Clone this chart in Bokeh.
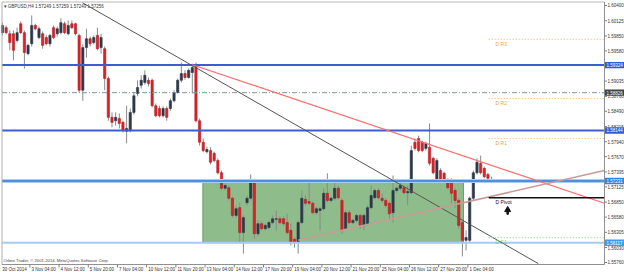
from bokeh.plotting import figure
from bokeh.models import Range1d
from bokeh.embed import file_html
from bokeh.resources import INLINE
from bokeh.core.properties import value

# ---------------- data (GBPUSD, H4) ----------------
symbol = "GBPUSD,H4"
quote = "1.57249 1.57259 1.57249 1.57256"
copyright_text = "Orbex Trader, \u00a9 2001-2014, MetaQuotes Software Corp."

opens = [1.5991,1.6000,1.5989,1.5989,1.5977,1.6007,1.5991,1.5953,1.5971,1.6004,
         1.5982,1.5989,1.5982,1.5971,1.6000,1.5989,1.5991,1.6007,1.5989,1.6007,
         1.6007,1.5986,1.5887,1.5964,1.5980,1.5973,1.5986,1.5964,1.5962,1.5908,
         1.5838,1.5832,1.5836,1.5829,1.5813,1.5814,1.5847,1.5881,1.5896,1.5901,
         1.5905,1.5905,1.5859,1.5854,1.5841,1.5854,1.5854,1.5868,1.5883,1.5905,
         1.5917,1.5910,1.5919,1.5932,1.5832,1.5793,1.5776,1.5778,1.5773,1.5760,
         1.5738,1.5710,1.5711,1.5692,1.5661,1.5675,1.5630,1.5684,1.5692,1.5720,
         1.5628,1.5646,1.5637,1.5639,1.5648,1.5654,1.5655,1.5655,1.5648,1.5634,
         1.5618,1.5612,1.5648,1.5690,1.5686,1.5683,1.5666,1.5670,1.5673,1.5701,
         1.5688,1.5692,1.5710,1.5688,1.5637,1.5666,1.5648,1.5652,1.5661,1.5643,
         1.5646,1.5675,1.5693,1.5706,1.5692,1.5688,1.5683,1.5666,1.5706,1.5710,
         1.5711,1.5702,1.5702,1.5793,1.5800,1.5793,1.5782,1.5784,1.5764,1.5724,
         1.5742,1.5737,1.5724,1.5724,1.5706,1.5688,1.5648,1.5616,1.5616,1.5692,
         1.5738,1.5755,1.5746,1.5735,1.5725]
highs = [1.6009,1.6004,1.5995,1.5995,1.6000,1.6011,1.5995,1.5971,1.6022,1.6007,
         1.6002,1.5993,1.5986,1.5989,1.6004,1.6002,1.6017,1.6011,1.6013,1.6013,
         1.6009,1.5989,1.5970,1.5998,1.5984,1.5986,1.6000,1.5989,1.5966,1.5912,
         1.5847,1.5847,1.5845,1.5832,1.5859,1.5854,1.5883,1.5905,1.5914,1.5923,
         1.5910,1.5908,1.5863,1.5859,1.5858,1.5858,1.5872,1.5887,1.5908,1.5937,
         1.5923,1.5926,1.5935,1.5937,1.5836,1.5800,1.5785,1.5784,1.5776,1.5764,
         1.5742,1.5719,1.5715,1.5695,1.5679,1.5684,1.5661,1.5697,1.5735,1.5724,
         1.5652,1.5650,1.5646,1.5652,1.5661,1.5670,1.5659,1.5659,1.5664,1.5646,
         1.5621,1.5652,1.5706,1.5697,1.5720,1.5686,1.5677,1.5677,1.5710,1.5737,
         1.5695,1.5724,1.5715,1.5692,1.5670,1.5670,1.5655,1.5664,1.5664,1.5664,
         1.5679,1.5715,1.5710,1.5710,1.5701,1.5692,1.5686,1.5733,1.5713,1.5724,
         1.5715,1.5715,1.5787,1.5800,1.5805,1.5796,1.5794,1.5827,1.5767,1.5764,
         1.5746,1.5740,1.5728,1.5728,1.5710,1.5692,1.5652,1.5634,1.5695,1.5742,
         1.5764,1.5769,1.5749,1.5738,1.5731]
lows = [1.5986,1.5988,1.5959,1.5941,1.5973,1.5988,1.5926,1.5950,1.5966,1.5995,
        1.5979,1.5962,1.5968,1.5966,1.5979,1.5984,1.5988,1.5988,1.5986,1.5997,
        1.5986,1.5883,1.5868,1.5946,1.5966,1.5970,1.5959,1.5953,1.5887,1.5832,
        1.5820,1.5823,1.5818,1.5811,1.5791,1.5811,1.5843,1.5876,1.5890,1.5897,
        1.5894,1.5856,1.5838,1.5838,1.5838,1.5832,1.5850,1.5865,1.5881,1.5901,
        1.5906,1.5908,1.5881,1.5829,1.5787,1.5775,1.5773,1.5753,1.5757,1.5735,
        1.5706,1.5706,1.5688,1.5657,1.5657,1.5612,1.5592,1.5679,1.5688,1.5619,
        1.5623,1.5634,1.5634,1.5636,1.5645,1.5634,1.5645,1.5643,1.5627,1.5607,
        1.5603,1.5592,1.5645,1.5679,1.5679,1.5663,1.5663,1.5634,1.5670,1.5684,
        1.5684,1.5688,1.5690,1.5628,1.5634,1.5645,1.5645,1.5648,1.5637,1.5634,
        1.5643,1.5672,1.5690,1.5690,1.5684,1.5675,1.5655,1.5648,1.5702,1.5706,
        1.5699,1.5679,1.5699,1.5778,1.5775,1.5775,1.5778,1.5751,1.5735,1.5720,
        1.5720,1.5720,1.5708,1.5683,1.5675,1.5637,1.5587,1.5598,1.5612,1.5688,
        1.5735,1.5735,1.5728,1.5724,1.5722]
closes = [1.6004,1.5991,1.5973,1.5959,1.5991,1.5991,1.5955,1.5968,1.6004,1.5998,
          1.5998,1.5968,1.5971,1.5986,1.5982,1.5998,1.6009,1.5991,1.6004,1.6000,
          1.5989,1.5887,1.5964,1.5980,1.5971,1.5982,1.5962,1.5982,1.5908,1.5838,
          1.5829,1.5838,1.5827,1.5814,1.5818,1.5847,1.5877,1.5892,1.5905,1.5914,
          1.5899,1.5859,1.5841,1.5841,1.5854,1.5838,1.5868,1.5883,1.5905,1.5917,
          1.5910,1.5923,1.5928,1.5832,1.5793,1.5778,1.5780,1.5757,1.5760,1.5738,
          1.5710,1.5715,1.5692,1.5661,1.5673,1.5630,1.5657,1.5692,1.5720,1.5628,
          1.5646,1.5637,1.5643,1.5648,1.5655,1.5655,1.5648,1.5646,1.5630,1.5612,
          1.5612,1.5648,1.5692,1.5683,1.5683,1.5666,1.5673,1.5673,1.5701,1.5688,
          1.5692,1.5710,1.5693,1.5634,1.5666,1.5648,1.5652,1.5661,1.5643,1.5661,
          1.5675,1.5697,1.5706,1.5693,1.5688,1.5679,1.5664,1.5706,1.5710,1.5715,
          1.5702,1.5704,1.5778,1.5782,1.5778,1.5778,1.5791,1.5755,1.5738,1.5760,
          1.5724,1.5724,1.5711,1.5701,1.5688,1.5643,1.5616,1.5621,1.5692,1.5738,
          1.5757,1.5738,1.5731,1.5728,1.5726]

# time axis: bar index of each label tick and its text
time_ticks = [-0.5, 7.5, 15.5, 23.5, 31.5, 39.5, 47.5, 55.5, 63.5, 71.5,
              79.5, 87.5, 95.5, 103.5, 111.5, 119.5, 127.5]
time_labels = ["30 Oct 2014", "3 Nov 04:00", "4 Nov 12:00", "5 Nov 20:00",
               "7 Nov 04:00", "10 Nov 12:00", "11 Nov 20:00", "13 Nov 04:00",
               "14 Nov 12:00", "17 Nov 20:00", "19 Nov 04:00", "20 Nov 12:00",
               "21 Nov 20:00", "25 Nov 04:00", "26 Nov 12:00", "27 Nov 20:00",
               "1 Dec 04:00"]

# price axis ticks
price_ticks = [1.60400, 1.60125, 1.59850, 1.59580, 1.59035, 1.58760, 1.58490,
               1.58215, 1.57940, 1.57670, 1.57395, 1.57125, 1.56850, 1.56580,
               1.56305, 1.56030, 1.55760]

# horizontal levels
blue_levels = [1.59324, 1.58144]
zone_top = 1.57231
zone_bottom = 1.56117
dashdot_level = 1.58826
zone_start = 54.9
zone_end = 126.3

# daily pivots
pivot_names = ["D R3", "D R2", "D R1", "D Pivot", "D S1"]
pivot_levels = [1.5979, 1.5872, 1.5800, 1.5693, 1.5621]
pivot_start = 133.2

# trend lines (bar index, price)
trend_black_x = [21.9, 146.8]
trend_black_y = [1.6045, 1.5574]
trend_red_x = [52.0, 164.9]
trend_red_y = [1.5933, 1.5683]
trend_brown_x = [81.0, 164.9]
trend_brown_y = [1.5616, 1.5742]

# buy arrow
arrow_x = [138.4]
arrow_y = [1.5671]

# ---------------- layout helpers (screen px -> data) ----------------
BAR_PX = 3.65          # px per bar
PRICE_PER_PX = 0.00018054
PRICE_AT_TOP = 1.6049  # price at the top edge of the canvas
FONT = "Liberation Sans"


def xd(px):
    return (px - 2) / BAR_PX


def yd(py):
    return PRICE_AT_TOP - py * PRICE_PER_PX


CL, CR = xd(1.5), xd(604)      # chart area left / right
CT, CB = yd(1.5), yd(264)      # chart area top / bottom

p = figure(width=624, height=272, output_backend="svg", toolbar_location=None,
           x_range=Range1d(xd(0), xd(624)), y_range=Range1d(yd(272), yd(0)),
           x_axis_location=None, y_axis_location=None,
           min_border=0, min_border_left=0, min_border_right=0,
           min_border_top=0, min_border_bottom=0,
           background_fill_color="white", border_fill_color="white",
           outline_line_color=None)
p.xgrid.visible = False
p.ygrid.visible = False

# green zone
p.quad(left=[zone_start], right=[zone_end], top=[zone_top], bottom=[zone_bottom],
       fill_color="#8fbc8b", line_color="#6a9e62", line_width=1)

# candles
idx = list(range(len(opens)))
bx, bt, bb, rx, rt, rb = [], [], [], [], [], []
for i, o, c in zip(idx, opens, closes):
    if c >= o:
        bx.append(i); bt.append(c); bb.append(o)
    else:
        rx.append(i); rt.append(o); rb.append(c)
p.segment(x0=idx, y0=lows, x1=idx, y1=highs, line_color="#8a8a8a", line_width=1)
p.vbar(x=bx, top=bt, bottom=bb, width=0.62, fill_color="#2d3848",
       line_color="#2d3848", line_width=0.6)
p.vbar(x=rx, top=rt, bottom=rb, width=0.62, fill_color="#de2128",
       line_color="#b01c22", line_width=0.6)

# horizontal levels
p.segment(x0=[CL], x1=[CR], y0=[dashdot_level], y1=[dashdot_level],
          line_color="#7f9a96", line_width=1, line_dash="5 2 1 2")
for lv in blue_levels:
    p.segment(x0=[CL], x1=[CR], y0=[lv], y1=[lv], line_color="#3c5fd0", line_width=2)
p.segment(x0=[CL], x1=[CR], y0=[zone_top], y1=[zone_top],
          line_color="#a9cdf3", line_width=4)
p.segment(x0=[CL], x1=[CR], y0=[zone_top], y1=[zone_top],
          line_color="#4f8fdc", line_width=2)
p.segment(x0=[CL], x1=[CR], y0=[zone_bottom], y1=[zone_bottom],
          line_color="#a6cbf2", line_width=2)

# trend lines
p.line(trend_black_x, trend_black_y, line_color="#555555", line_width=1)
p.line(trend_red_x, trend_red_y, line_color="#ff6a6a", line_width=1.2)
p.line(trend_brown_x, trend_brown_y, line_color="#c99a98", line_width=1.6)

# pivots
pivot_colors = ["#f7b35a", "#f7b35a", "#f7b35a", "#111111", "#8fe08f"]
pivot_dash = ["1 2", "1 2", "1 2", "solid", "1 2"]
pivot_width = [1, 1, 1, 1.6, 1.2]
for lv, col, dsh, lw in zip(pivot_levels, pivot_colors, pivot_dash, pivot_width):
    p.segment(x0=[pivot_start], x1=[CR], y0=[lv], y1=[lv],
              line_color=col, line_dash=dsh, line_width=lw)
p.text(x=[pivot_start + 1.9] * len(pivot_names), y=pivot_levels, text=pivot_names,
       text_color=["#f0a040", "#f0a040", "#f0a040", "#111111", "#7cd07c"],
       text_font=value(FONT), text_font_size="5px",
       text_baseline="top", y_offset=1.5)

# buy arrow
p.vbar(x=arrow_x, top=[arrow_y[0] - 0.00025], bottom=[arrow_y[0] - 0.0008], width=0.4,
       fill_color="#111111", line_color="#111111")
p.scatter(x=arrow_x, y=arrow_y, marker="triangle", size=6,
          fill_color="#111111", line_color="#111111")

# chart frame (left / top border, price axis line, time axis line)
p.segment(x0=[CL, CL, CR, CL], y0=[CB, CT, CB, CB], x1=[CL, CR, CR, CR], y1=[CT, CT, CT, CB],
          line_color=["#b0b0b0", "#b8b8b8", "#909090", "#909090"], line_width=1)

# price axis: ticks + labels
p.segment(x0=[CR] * len(price_ticks), x1=[xd(606.5)] * len(price_ticks),
          y0=price_ticks, y1=price_ticks, line_color="#808080", line_width=1)
p.text(x=[xd(607)] * len(price_ticks), y=price_ticks,
       text=["%.5f" % t for t in price_ticks],
       text_font=value(FONT), text_font_size="4.5px", text_color="#333333",
       text_align="left", text_baseline="middle")

# highlighted price labels
hl_levels = [blue_levels[0], dashdot_level, blue_levels[1], zone_top, zone_bottom]
hl_colors = ["#2f5fd3", "#3b4448", "#2f5fd3", "#2a86e8", "#3b9cf0"]
half_h = 3.2 * PRICE_PER_PX
p.quad(left=[xd(604.5)] * len(hl_levels), right=[xd(624)] * len(hl_levels),
       top=[lv + half_h for lv in hl_levels], bottom=[lv - half_h for lv in hl_levels],
       fill_color=hl_colors, line_color=None)
p.text(x=[xd(606)] * len(hl_levels), y=hl_levels,
       text=["%.5f" % lv for lv in hl_levels],
       text_font=value(FONT), text_font_size="4.5px", text_color="white",
       text_align="left", text_baseline="middle")

# time axis: ticks + labels
p.segment(x0=time_ticks[1:], x1=time_ticks[1:], y0=[CB] * (len(time_ticks) - 1),
          y1=[yd(267)] * (len(time_ticks) - 1), line_color="#808080", line_width=1)
p.text(x=time_ticks, y=[yd(268.5)] * len(time_ticks), text=time_labels,
       x_offset=1.5, text_font=value(FONT), text_font_size="4.5px",
       text_color="#333333", text_align="left", text_baseline="middle")

# title and copyright
p.text(x=[xd(3)], y=[yd(5.5)], text=["\u25be " + symbol + "  " + quote],
       text_font=value(FONT), text_font_size="4.5px", text_color="#333333",
       text_align="left", text_baseline="middle")
p.text(x=[xd(3)], y=[yd(259.5)], text=[copyright_text],
       text_font=value(FONT), text_font_size="4.2px", text_color="#444444",
       text_align="left", text_baseline="middle")

open("out.html", "w").write(file_html(p, INLINE))
